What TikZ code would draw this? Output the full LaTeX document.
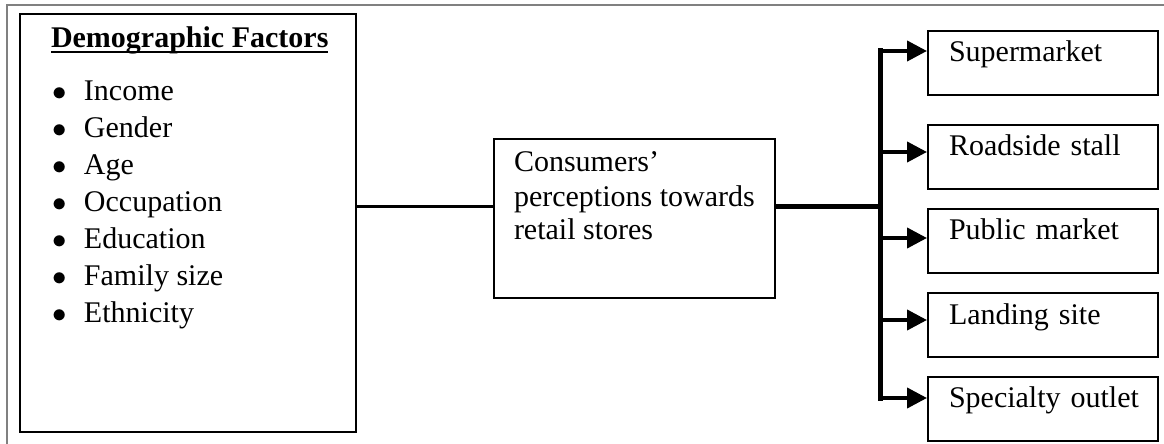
\documentclass[tikz,border=0pt]{standalone}
\usepackage{fontspec}
\setmainfont{Liberation Serif}
\usepackage{tikz}
\usetikzlibrary{arrows.meta,positioning}
\newcommand{\demoitem}[1]{\makebox[16.5pt][l]{\hspace{1pt}$\bullet$}#1}
\newcommand{\titleline}[1]{\setbox0\hbox{#1}\rlap{\rule[-2.6pt]{\wd0}{0.9pt}}\box0}

\begin{document}
\begin{tikzpicture}[x=0.5pt, y=-0.5pt, node distance=9pt, font=\fontsize{15pt}{17pt}\selectfont]
\tikzset{frame/.style={draw, line width=1pt, inner ysep=0pt, anchor=north west},
  outlet/.style={frame, text width=94pt, inner xsep=10.5pt, text height=15.5pt, text depth=16.5pt, align=left},
  branch/.style={-{Triangle[length=10pt,width=10pt]}, line width=2pt}}
\useasboundingbox (0,0) rectangle (1164,444);
\draw[gray, line width=0.6pt] (7,444) -- (7,5) -- (1164,5);
% left box
\node[frame, inner xsep=15.5pt] (demo) at (19,13) {\parbox[c][209pt][t]{137pt}{\baselineskip=18.5pt
  \rule{0pt}{17pt}\titleline{\textbf{Demographic Factors}}\\[8pt]
  \demoitem{Income}\\ \demoitem{Gender}\\ \demoitem{Age}\\ \demoitem{Occupation}\\
  \demoitem{Education}\\ \demoitem{Family size}\\ \demoitem{Ethnicity}}};
% middle box
\node[frame, inner xsep=10pt] (cons) at (493,138) {\parbox[c][79.5pt][t]{120.5pt}{\raggedright\baselineskip=17pt
  \rule{0pt}{16.5pt}Consumers’\\perceptions towards\\retail stores}};
% store types
\node[outlet] (sup) at (927,30) {Supermarket};
\node[outlet] (road) at (927,124) {Roadside stall};
\node[outlet, below=of road.south west, anchor=north west] (pub) {Public market};
\node[outlet, below=of pub.south west, anchor=north west] (land) {Landing site};
\node[outlet, below=of land.south west, anchor=north west] (spec) {\mbox{Specialty outlet}};
\coordinate (hub) at (880,207);
\coordinate (b1) at (880,51);
\coordinate (b2) at (880,152);
\coordinate (b3) at (880,238);
\coordinate (b4) at (880,320);
\coordinate (b5) at (880,398);
\draw[line width=1.5pt] (demo.east |- hub) -- (cons.west |- hub);
\draw[line width=2.5pt] (cons.east |- hub) -- (hub);
\draw[line width=2.5pt, line cap=rect] (b1) -- (b5);
\foreach \b/\n in {b1/sup, b2/road, b3/pub, b4/land, b5/spec}
  \draw[branch] (\b) -- (\n.west |- \b);
\end{tikzpicture}
\end{document}
